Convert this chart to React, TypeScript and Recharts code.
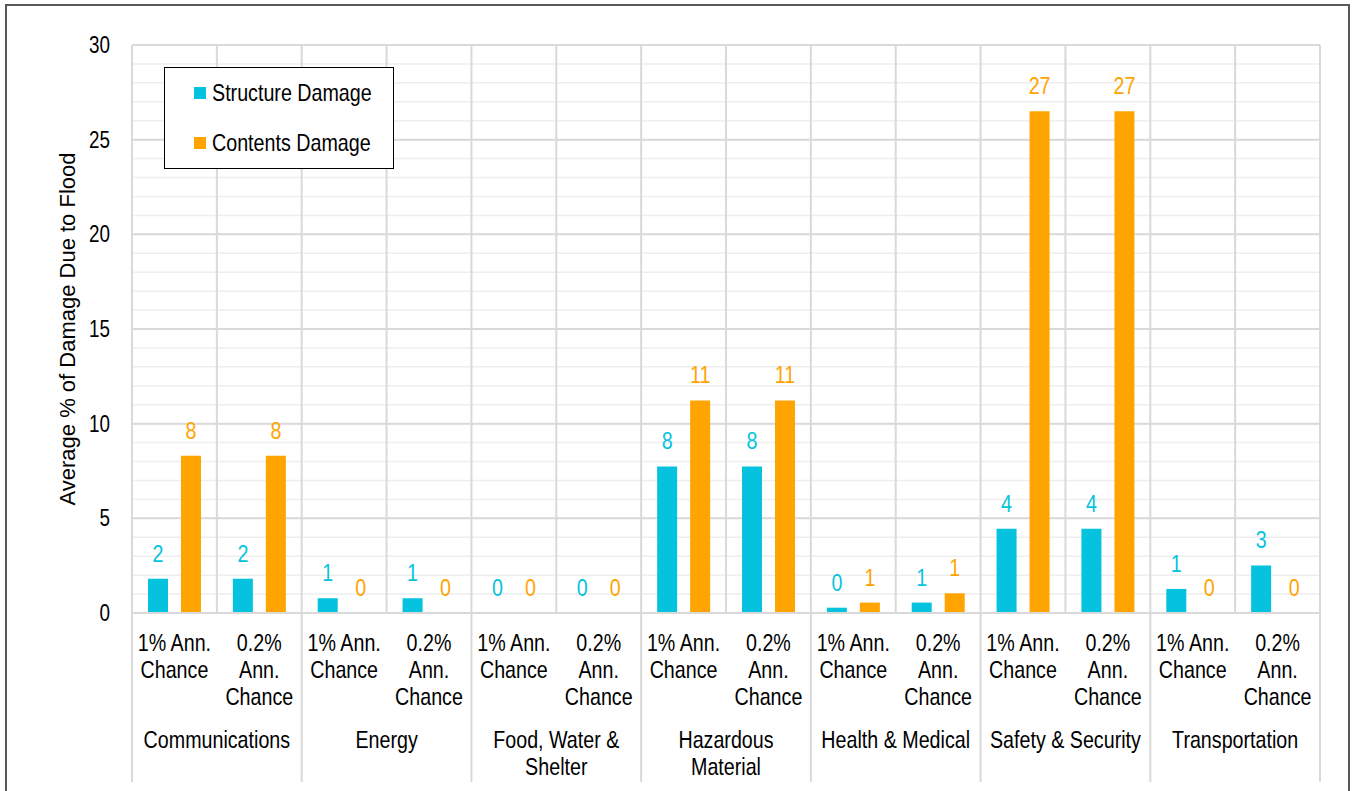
import React from "react";
import {
  BarChart,
  Bar,
  XAxis,
  YAxis,
  CartesianGrid,
  LabelList,
} from "recharts";

// ---------- data ----------
const categories = [
  "Communications",
  "Energy",
  "Food, Water &\nShelter",
  "Hazardous\nMaterial",
  "Health & Medical",
  "Safety & Security",
  "Transportation",
];
const scenarios = ["1% Ann.\nChance", "0.2%\nAnn.\nChance"];

const structureDamage = [1.81, 1.81, 0.78, 0.78, 0, 0, 7.74, 7.74, 0.28, 0.55, 4.45, 4.45, 1.27, 2.51];
const contentsDamage = [8.31, 8.31, 0, 0, 0, 0, 11.23, 11.23, 0.55, 1.04, 26.5, 26.5, 0, 0];

const seriesNames = ["Structure Damage", "Contents Damage"];
const seriesColors = ["#05C3DE", "#FFA400"];

const yMajorTicks = [0, 5, 10, 15, 20, 25, 30];
const yMinorTicks = Array.from({ length: 31 }, (_, i) => i);
const yMax = 30;
const yTitle = "Average % of Damage Due to Flood";

const chartData = structureDamage.map((s, i) => ({
  key: `k${i}`,
  category: categories[Math.floor(i / scenarios.length)],
  scenario: scenarios[i % scenarios.length],
  structure: s,
  contents: contentsDamage[i],
}));

const FONT = "'Liberation Sans', Arial, sans-serif";
const FS = 24;
const SX = 0.82; // narrow (condensed) look

const NText = ({ x, y, anchor = "middle", fill = "#000", size = FS, children }: any) => (
  <g transform={`translate(${x},${y}) scale(${SX},1)`}>
    <text x={0} y={0} textAnchor={anchor} fontSize={size} fontFamily={FONT} fill={fill}>
      {children}
    </text>
  </g>
);

const XTick = (props: any) => {
  const { x, y, payload } = props;
  const i = payload?.index ?? props.index ?? 0;
  const half = payload?.offset && payload.offset > 0 ? payload.offset : 42.43;
  const row = chartData[i];
  const subLines = row.scenario.split("\n");
  const isFirst = i % scenarios.length === 0;
  const isLast = i === chartData.length - 1;
  const catLines = row.category.split("\n");
  return (
    <g>
      {subLines.map((ln: string, k: number) => (
        <NText key={k} x={x} y={y + 37.5 + k * 27.2}>
          {ln}
        </NText>
      ))}
      {isFirst && (
        <>
          <line x1={x - half} x2={x - half} y1={y} y2={y + 169} stroke="#d9d9d9" strokeWidth={2} />
          {catLines.map((ln: string, k: number) => (
            <NText key={`c${k}`} x={x + half} y={y + 134.5 + k * 27.5}>
              {ln}
            </NText>
          ))}
        </>
      )}
      {isLast && (
        <line x1={x + half} x2={x + half} y1={y} y2={y + 169} stroke="#d9d9d9" strokeWidth={2} />
      )}
    </g>
  );
};

const YTick = (props: any) => {
  const { x, y, payload } = props;
  return (
    <NText x={x} y={y + 0.355 * 23} anchor="end" size={23}>
      {payload.value}
    </NText>
  );
};

const YTitle = (props: any) => {
  const vb = props.viewBox || {};
  const cx = 67;
  const cy = (vb.y ?? 45) + (vb.height ?? 568) / 2;
  return (
    <text
      x={cx}
      y={cy}
      transform={`rotate(-90, ${cx}, ${cy})`}
      textAnchor="middle"
      dominantBaseline="central"
      fontSize={22}
      fontFamily={FONT}
      fill="#000"
    >
      {yTitle}
    </text>
  );
};

const makeValueLabel = (color: string) => (props: any) => {
  const { x, y, width, value } = props;
  if (value === undefined || value === null) return null;
  return (
    <NText x={Number(x) + Number(width) / 2} y={Number(y) - 17} fill={color}>
      {Math.round(Number(value))}
    </NText>
  );
};

export default function App() {
  return (
    <div
      style={{
        position: "fixed",
        left: 0,
        top: 0,
        width: 1352,
        height: 791,
        overflow: "hidden",
        background: "#fff",
        fontFamily: FONT,
      }}
    >
      <div
        style={{
          position: "absolute",
          left: 5,
          top: 4,
          width: 1345,
          height: 840,
          border: "2px solid #595959",
          boxSizing: "border-box",
        }}
      />
      <div style={{ position: "absolute", left: 0, top: 0 }}>
        <BarChart
          width={1352}
          height={791}
          data={chartData}
          margin={{ top: 45, right: 32, bottom: 0, left: 0 }}
          barSize={20}
          barGap={13}
        >
          <CartesianGrid
            vertical={false}
            stroke="#eeeeee"
            strokeWidth={1.5}
            horizontalCoordinatesGenerator={({ offset }: any) =>
              yMinorTicks.map((v) => offset.top + offset.height * (1 - v / yMax))
            }
          />
          <CartesianGrid
            stroke="#d9d9d9"
            strokeWidth={2}
            horizontalCoordinatesGenerator={({ offset }: any) =>
              yMajorTicks.map((v) => offset.top + offset.height * (1 - v / yMax))
            }
            verticalCoordinatesGenerator={({ offset }: any) =>
              chartData
                .map((_, i) => offset.left + (offset.width * i) / chartData.length)
                .concat([offset.left + offset.width])
            }
          />
          <XAxis
            dataKey="key"
            interval={0}
            height={178}
            tickLine={false}
            tickSize={0}
            tickMargin={0}
            axisLine={{ stroke: "#d9d9d9", strokeWidth: 2 }}
            tick={<XTick />}
          />
          <YAxis
            width={132}
            domain={[0, yMax]}
            ticks={yMajorTicks}
            interval={0}
            axisLine={false}
            tickLine={false}
            tickSize={0}
            tickMargin={22}
            tick={<YTick />}
            label={<YTitle />}
          />
          <Bar
            dataKey="structure"
            name={seriesNames[0]}
            fill={seriesColors[0]}
            minPointSize={0.01}
            isAnimationActive={false}
          >
            <LabelList dataKey="structure" content={makeValueLabel(seriesColors[0])} />
          </Bar>
          <Bar
            dataKey="contents"
            name={seriesNames[1]}
            fill={seriesColors[1]}
            minPointSize={0.01}
            isAnimationActive={false}
          >
            <LabelList dataKey="contents" content={makeValueLabel(seriesColors[1])} />
          </Bar>
        </BarChart>
      </div>
      <div
        style={{
          position: "absolute",
          left: 164,
          top: 67,
          width: 230,
          height: 102,
          border: "1.5px solid #000",
          boxSizing: "border-box",
          background: "#fff",
        }}
      >
        {seriesNames.map((n, i) => (
          <div
            key={n}
            style={{
              position: "absolute",
              left: 29,
              top: 11 + i * 50,
              height: 28,
              display: "flex",
              alignItems: "center",
              whiteSpace: "nowrap",
              color: "#000",
            }}
          >
            <span
              style={{
                display: "inline-block",
                width: 12,
                height: 12,
                background: seriesColors[i],
                marginRight: 6,
              }}
            />
            <span
              style={{
                display: "inline-block",
                fontSize: FS,
                transform: `scaleX(${SX})`,
                transformOrigin: "left center",
              }}
            >
              {n}
            </span>
          </div>
        ))}
      </div>
    </div>
  );
}
